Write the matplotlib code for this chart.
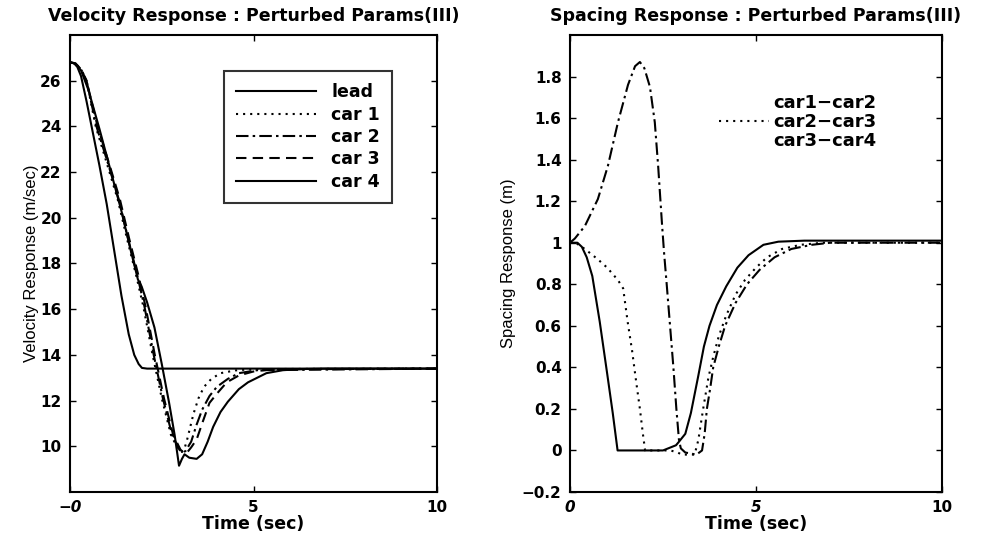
import matplotlib
matplotlib.use("Agg")
import matplotlib.pyplot as plt

# velocity response data
lead_t = [0, 0.1, 0.2, 0.3, 0.45, 0.6, 0.8, 1.0, 1.2, 1.4, 1.6, 1.75, 1.87, 1.96, 2.1, 10]
lead_v = [26.8, 26.78, 26.6, 26.2, 25.1, 23.9, 22.3, 20.6, 18.6, 16.6, 14.9, 14.0, 13.6, 13.43, 13.4, 13.4]

car1_t = [0, 0.15, 0.3, 0.45, 0.7, 1.0, 1.3, 1.55, 1.8, 2.0, 2.25, 2.5, 2.75, 2.95, 3.05, 3.12,
          3.2, 3.36, 3.5, 3.65, 3.85, 4.1, 4.5, 5.0, 10]
car1_v = [26.8, 26.75, 26.5, 26.0, 24.0, 22.4, 20.8, 19.1, 17.5, 16.1, 14.0, 12.1, 10.5, 9.85, 9.75, 9.9,
          10.35, 11.4, 12.1, 12.6, 12.95, 13.2, 13.32, 13.38, 13.4]

car2_t = [0, 0.15, 0.3, 0.45, 0.72, 1.03, 1.33, 1.58, 1.83, 2.03, 2.28, 2.53, 2.78, 2.98, 3.08, 3.15,
          3.3, 3.45, 3.6, 3.8, 4.0, 4.3, 4.6, 5.1, 10]
car2_v = [26.8, 26.75, 26.5, 26.0, 24.0, 22.4, 20.8, 19.1, 17.5, 16.1, 14.0, 12.1, 10.5, 9.85, 9.72, 9.8,
          10.2, 10.95, 11.6, 12.2, 12.6, 12.95, 13.2, 13.33, 13.4]

car3_t = [0, 0.15, 0.3, 0.45, 0.75, 1.06, 1.36, 1.61, 1.86, 2.06, 2.31, 2.56, 2.81, 3.01, 3.12, 3.2,
          3.3, 3.45, 3.6, 3.8, 4.0, 4.27, 4.6, 4.99, 5.5, 10]
car3_v = [26.8, 26.75, 26.5, 26.0, 24.0, 22.4, 20.8, 19.1, 17.5, 16.1, 14.0, 12.1, 10.5, 9.85, 9.7, 9.75,
          9.95, 10.3, 11.0, 11.9, 12.3, 12.8, 13.1, 13.27, 13.37, 13.4]

car4_t = [0, 0.15, 0.3, 0.5, 0.8, 1.1, 1.4, 1.65, 1.85, 1.95, 2.1, 2.3, 2.5, 2.7, 2.85, 2.97, 3.05,
          3.12, 3.25, 3.45, 3.6, 3.75, 3.9, 4.1, 4.3, 4.6, 4.85, 5.35, 5.8, 6.3, 7.0, 10]
car4_v = [26.8, 26.75, 26.45, 25.6, 23.9, 22.1, 20.3, 18.6, 17.3, 17.0, 16.3, 15.2, 13.6, 11.9, 10.5, 9.15, 9.45,
          9.65, 9.5, 9.45, 9.65, 10.2, 10.85, 11.5, 11.95, 12.5, 12.8, 13.2, 13.33, 13.38, 13.4, 13.4]

# spacing response data
sp12_t = [0, 0.2, 0.32, 0.45, 0.6, 0.8, 1.0, 1.15, 1.28, 2.5, 2.85, 2.92, 3.1, 3.25, 3.45, 3.6, 3.75,
          3.95, 4.2, 4.5, 4.8, 5.2, 5.6, 6.3, 10]
sp12_v = [1.0, 1.0, 0.98, 0.93, 0.84, 0.62, 0.37, 0.18, 0.0, 0.0, 0.025, 0.04, 0.08, 0.18, 0.36, 0.5, 0.6,
          0.7, 0.79, 0.88, 0.94, 0.99, 1.005, 1.01, 1.01]

sp23_t = [0, 0.15, 0.4, 0.75, 1.0, 1.29, 1.43, 1.55, 1.67, 1.78, 1.88, 1.96, 2.02, 2.7, 2.9, 3.0, 3.35,
          3.45, 3.58, 3.72, 3.85, 4.0, 4.2, 4.45, 4.7, 5.0, 5.3, 5.7, 6.2, 6.8, 10]
sp23_v = [1.0, 1.0, 0.97, 0.92, 0.88, 0.82, 0.78, 0.62, 0.48, 0.33, 0.2, 0.08, 0.0, 0.0, -0.01, -0.02, -0.02,
          0.05, 0.2, 0.35, 0.45, 0.55, 0.65, 0.75, 0.82, 0.88, 0.93, 0.97, 0.99, 1.0, 1.0]

sp34_t = [0, 0.13, 0.4, 0.75, 1.02, 1.29, 1.56, 1.75, 1.88, 2.0, 2.15, 2.28, 2.37, 2.47, 2.53, 2.6, 2.69,
          2.78, 2.86, 2.93, 2.98, 3.1, 3.4, 3.55, 3.62, 3.68, 3.77, 3.85, 4.0, 4.17, 4.45, 4.76, 5.1,
          5.5, 5.95, 6.5, 7.0, 10]
sp34_v = [1.0, 1.02, 1.08, 1.21, 1.37, 1.58, 1.76, 1.85, 1.87, 1.84, 1.75, 1.58, 1.37, 1.1, 0.95, 0.8, 0.6,
          0.4, 0.2, 0.05, 0.01, -0.01, -0.02, 0.0, 0.08, 0.2, 0.3, 0.4, 0.5, 0.6, 0.71, 0.8, 0.87,
          0.93, 0.97, 0.99, 1.0, 1.0]

vel_ticks = [10, 12, 14, 16, 18, 20, 22, 24, 26]
sp_ticks = [-0.2, 0, 0.2, 0.4, 0.6, 0.8, 1, 1.2, 1.4, 1.6, 1.8]
sp_ticklabels = ["\u22120.2", "0", "0.2", "0.4", "0.6", "0.8", "1", "1.2", "1.4", "1.6", "1.8"]

dotted = (0, (1, 2.4))
dashdot = (0, (6, 2, 1.2, 2))
dashed = (0, (5, 3))

fig = plt.figure(figsize=(9.89, 5.36), dpi=100)
ax1 = fig.add_axes([0.0708, 0.0821, 0.3711, 0.8526])
ax2 = fig.add_axes([0.5763, 0.0821, 0.3762, 0.8526])

lw = 1.5
ax1.plot(lead_t, lead_v, color="black", lw=lw, label="lead")
ax1.plot(car1_t, car1_v, color="black", lw=lw, ls=dotted, label="car 1")
ax1.plot(car2_t, car2_v, color="black", lw=lw, ls=dashdot, label="car 2")
ax1.plot(car3_t, car3_v, color="black", lw=lw, ls=dashed, label="car 3")
ax1.plot(car4_t, car4_v, color="black", lw=lw, label="car 4")

ax2.plot(sp12_t, sp12_v, color="black", lw=lw, label="car1\u2212car2")
ax2.plot(sp23_t, sp23_v, color="black", lw=lw, ls=dotted, label="car2\u2212car3")
ax2.plot(sp34_t, sp34_v, color="black", lw=lw, ls=dashdot, label="car3\u2212car4")

tick_font = dict(family="DejaVu Sans", weight="bold", size=11)
xlab_font = dict(family="DejaVu Sans", weight="bold", size=12.5)

for ax in (ax1, ax2):
    ax.set_xlim(0, 10)
    ax.set_xticks([0, 5, 10])
    ax.tick_params(direction="in", top=True, right=True, length=4, width=1, pad=6)
    for s in ax.spines.values():
        s.set_linewidth(1.5)
    ax.set_xlabel("Time (sec)", fontdict=xlab_font, labelpad=0)

ax1.set_ylim(8, 28)
ax1.set_yticks(vel_ticks)
ax1.set_yticklabels([str(v) for v in vel_ticks], fontdict=tick_font)
ax1.set_xticklabels(["\u22120", "5", "10"], fontdict=tick_font)
ax1.get_xticklabels()[0].set_style("italic")
ax1.set_ylabel("Velocity Response (m/sec)", family="Liberation Sans", size=12, labelpad=1)
ax1.set_title("Velocity Response : Perturbed Params(III)", family="DejaVu Sans",
              weight="bold", size=12.5, pad=10)

ax2.set_ylim(-0.2, 2.0)
ax2.set_yticks(sp_ticks)
ax2.set_yticklabels(sp_ticklabels, fontdict=tick_font)
ax2.set_xticklabels(["0", "5", "10"], fontdict=tick_font)
for lab in ax2.get_xticklabels()[:2]:
    lab.set_style("italic")
ax2.set_ylabel("Spacing Response (m)", family="Liberation Sans", size=12, labelpad=4)
ax2.set_title("Spacing Response : Perturbed Params(III)", family="DejaVu Sans",
              weight="bold", size=12.5, pad=10)

leg1 = ax1.legend(loc="upper left", bbox_to_anchor=(0.395, 0.94), fancybox=False,
                  edgecolor="black", handlelength=4.6, handletextpad=0.9, labelspacing=0.25,
                  borderpad=0.7, prop=dict(family="DejaVu Sans", weight="bold", size=12.5))
leg1.get_frame().set_linewidth(1.5)

leg2 = ax2.legend(loc="upper left", bbox_to_anchor=(0.40, 0.87), frameon=False,
                  borderpad=0, borderaxespad=0,
                  handlelength=2.8, handletextpad=0.2, labelspacing=0.05,
                  prop=dict(family="DejaVu Sans", weight="bold", size=13))
leg2.legend_handles[0].set_visible(False)
leg2.legend_handles[2].set_visible(False)

fig.savefig("out.png", dpi=100)
